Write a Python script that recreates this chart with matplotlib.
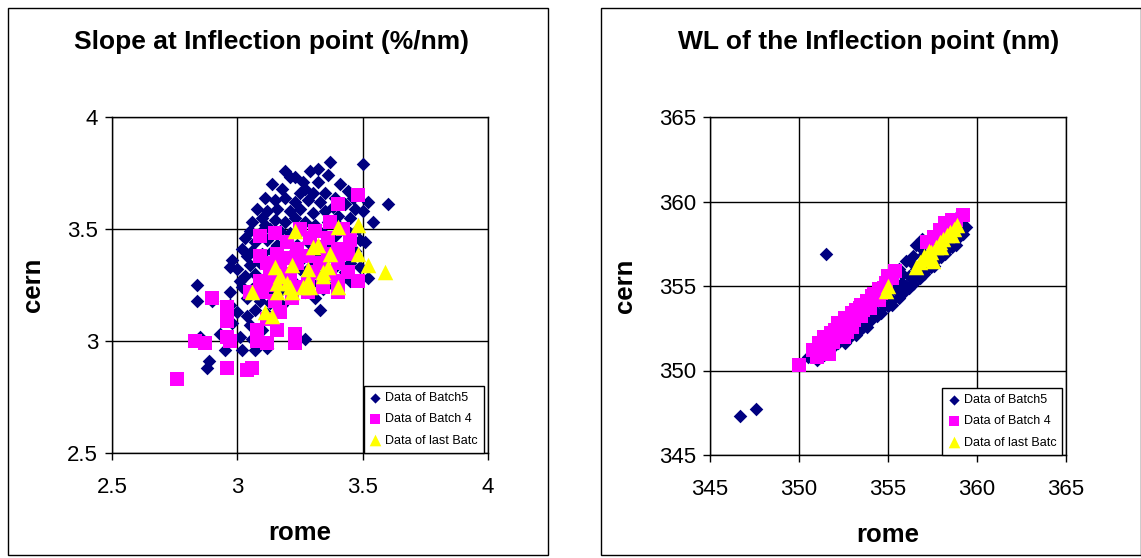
import matplotlib
matplotlib.use("Agg")
import matplotlib.pyplot as plt
from matplotlib.patches import Rectangle

plt.rcParams["font.family"] = ["Liberation Sans", "DejaVu Sans"]

# ---- left panel: slope at inflection point (%/nm) ----
slope_b5 = [
    (3.37, 3.80), (3.50, 3.79), (3.32, 3.77), (3.21, 3.73), (3.23, 3.73), (3.32, 3.71), (3.27, 3.68),
    (3.44, 3.67), (3.60, 3.61), (3.50, 3.58), (3.54, 3.53), (3.11, 3.64), (3.10, 3.55), (3.03, 3.46),
    (3.04, 3.38), (2.98, 3.36), (2.84, 3.25), (2.84, 3.18), (2.90, 3.18), (3.04, 3.11), (3.00, 3.13),
    (3.01, 3.02), (3.02, 2.96), (2.95, 2.96), (2.885, 2.91), (2.88, 2.88), (2.85, 3.02), (3.07, 2.96),
    (2.97, 3.33), (3.01, 3.27), (3.52, 3.28), (3.33, 3.14), (3.27, 3.01), (3.43, 3.31), (3.34, 3.23),
    (3.14, 3.70), (3.18, 3.68), (3.26, 3.71), (3.30, 3.66), (3.35, 3.66), (3.39, 3.64), (3.15, 3.63),
    (3.19, 3.64), (3.23, 3.62), (3.28, 3.63), (3.33, 3.62), (3.38, 3.60), (3.43, 3.61), (3.47, 3.59),
    (3.08, 3.59), (3.12, 3.58), (3.16, 3.59), (3.21, 3.58), (3.25, 3.59), (3.30, 3.57), (3.35, 3.58),
    (3.40, 3.56), (3.45, 3.55), (3.06, 3.53), (3.11, 3.52), (3.15, 3.54), (3.19, 3.53), (3.23, 3.55),
    (3.27, 3.53), (3.31, 3.52), (3.36, 3.53), (3.41, 3.51), (3.05, 3.49), (3.09, 3.48), (3.13, 3.50),
    (3.17, 3.49), (3.21, 3.48), (3.25, 3.49), (3.29, 3.47), (3.34, 3.48), (3.39, 3.47), (3.45, 3.48),
    (3.49, 3.45), (3.07, 3.44), (3.12, 3.45), (3.16, 3.43), (3.20, 3.45), (3.24, 3.43), (3.28, 3.44),
    (3.32, 3.42), (3.37, 3.43), (3.42, 3.41), (3.47, 3.40), (3.02, 3.41), (3.06, 3.40), (3.10, 3.39),
    (3.14, 3.40), (3.18, 3.38), (3.22, 3.39), (3.26, 3.37), (3.31, 3.38), (3.35, 3.36), (3.40, 3.37),
    (3.45, 3.35), (3.00, 3.32), (3.05, 3.34), (3.09, 3.35), (3.13, 3.33), (3.17, 3.34), (3.21, 3.31),
    (3.25, 3.32), (3.29, 3.33), (3.34, 3.30), (3.38, 3.32), (3.03, 3.29), (3.07, 3.30), (3.11, 3.28),
    (3.15, 3.29), (3.19, 3.27), (3.23, 3.26), (3.28, 3.28), (3.32, 3.26), (3.38, 3.25), (3.45, 3.27),
    (3.02, 3.24), (3.06, 3.23), (3.10, 3.25), (3.14, 3.22), (3.18, 3.23), (3.22, 3.21), (3.27, 3.22),
    (3.31, 3.19), (2.97, 3.22), (3.04, 3.19), (3.09, 3.18), (3.13, 3.17), (3.18, 3.16), (3.07, 3.14),
    (3.12, 3.12), (2.98, 3.08), (3.05, 3.07), (3.10, 3.05), (2.93, 3.03), (3.06, 3.01), (3.12, 2.97),
    (2.97, 3.16), (3.29, 3.76), (3.36, 3.74), (3.41, 3.70), (3.46, 3.64), (3.52, 3.62), (3.19, 3.76),
    (3.48, 3.50), (3.51, 3.44), (3.49, 3.33), (3.42, 3.28), (3.25, 3.66),
]
slope_b4 = [
    (3.48, 3.65), (3.40, 3.61), (3.09, 3.47), (3.15, 3.48), (3.25, 3.50), (3.37, 3.53), (3.42, 3.50),
    (3.45, 3.45), (3.09, 3.38), (3.16, 3.39), (3.24, 3.41), (3.33, 3.42), (3.40, 3.41), (3.44, 3.39),
    (3.17, 3.33), (3.24, 3.35), (3.33, 3.35), (3.40, 3.35), (3.09, 3.27), (3.17, 3.27), (3.28, 3.26),
    (3.40, 3.27), (3.48, 3.27), (3.05, 3.22), (3.10, 3.22), (3.22, 3.19), (3.28, 3.22), (3.40, 3.22),
    (2.90, 3.19), (2.96, 3.15), (2.96, 3.09), (3.17, 3.13), (3.08, 3.05), (3.16, 3.05), (2.96, 3.02),
    (2.83, 3.00), (2.87, 2.99), (2.97, 3.00), (3.08, 3.00), (3.12, 2.99), (3.23, 2.99), (3.23, 3.03),
    (2.96, 2.88), (3.04, 2.87), (3.06, 2.88), (2.76, 2.83), (3.20, 3.44), (3.29, 3.46), (3.36, 3.46),
    (3.21, 3.37), (3.28, 3.38), (3.36, 3.39), (3.13, 3.30), (3.21, 3.30), (3.30, 3.31), (3.37, 3.30),
    (3.13, 3.25), (3.24, 3.24), (3.34, 3.24), (3.44, 3.31), (3.12, 3.35), (3.31, 3.49), (3.15, 3.18),
    (3.12, 3.10),
]
slope_last = [
    (3.23, 3.49), (3.40, 3.51), (3.48, 3.52), (3.30, 3.42), (3.32, 3.43), (3.37, 3.39), (3.48, 3.39),
    (3.15, 3.33), (3.22, 3.34), (3.28, 3.32), (3.36, 3.33), (3.52, 3.34), (3.59, 3.31), (3.16, 3.26),
    (3.20, 3.26), (3.28, 3.27), (3.34, 3.29), (3.40, 3.24), (3.06, 3.22), (3.16, 3.22), (3.22, 3.22),
    (3.26, 3.24), (3.11, 3.13), (3.14, 3.11), (3.17, 3.29), (3.21, 3.24), (3.29, 3.24), (3.34, 3.31),
]

# ---- right panel: WL of the inflection point (nm) ----
wl_b5 = [
    (346.7, 347.3), (347.6, 347.7), (351.5, 356.9),
    (350.5, 350.8), (350.8, 350.9), (351.0, 351.2), (351.2, 351.0), (351.4, 351.5), (351.6, 351.3),
    (351.8, 351.8), (352.0, 351.6), (352.2, 352.1), (352.4, 351.9), (352.6, 352.4), (352.8, 352.2),
    (353.0, 352.7), (353.2, 352.5), (353.4, 353.0), (353.6, 352.6), (353.8, 353.2), (354.0, 353.0),
    (354.2, 353.6), (354.4, 353.4), (354.6, 354.0), (354.8, 353.8), (355.0, 354.4), (355.2, 354.2),
    (355.4, 354.8), (355.6, 354.6), (355.8, 355.2), (356.0, 355.0), (356.2, 355.6), (356.4, 355.5),
    (356.6, 356.0), (356.8, 355.7), (357.0, 356.3), (357.2, 356.0), (357.4, 356.6), (357.6, 356.4),
    (357.8, 357.0), (358.0, 356.8), (358.2, 357.4), (358.4, 357.3), (358.6, 357.8), (358.8, 357.7),
    (359.0, 358.2), (359.2, 358.1), (359.4, 358.5),
    (355.2, 355.6), (355.6, 356.0), (356.0, 356.5), (356.4, 356.8), (356.8, 357.3), (357.2, 357.6),
    (357.6, 358.0), (358.0, 358.4), (358.4, 358.7), (358.8, 359.0), (354.6, 355.0), (354.2, 354.6),
    (353.8, 354.2), (353.4, 353.8), (352.0, 352.6), (351.2, 351.8), (356.6, 357.4), (356.9, 357.8),
    (352.6, 351.6), (353.2, 352.1), (353.8, 352.6), (354.4, 353.2), (355.0, 353.8), (355.6, 354.3),
    (356.2, 354.9), (356.8, 355.5), (357.4, 356.1), (358.0, 356.7), (358.6, 357.3), (351.0, 350.6),
    (351.4, 350.9), (351.8, 351.3), (352.2, 351.6), (352.8, 351.9), (353.4, 352.4), (354.0, 352.9),
    (354.6, 353.4), (355.2, 353.9), (355.8, 354.5), (356.4, 355.1), (357.0, 355.7), (357.6, 356.2),
    (358.2, 356.9), (358.8, 357.4), (359.2, 358.6), (359.0, 358.7), (358.5, 358.2), (357.8, 357.5),
    (357.0, 356.9), (356.4, 356.3), (355.8, 355.7), (355.2, 355.0), (354.8, 354.4), (354.0, 353.6),
    (353.3, 353.0), (352.6, 352.3), (351.9, 351.6),
]
wl_b4 = [
    (350.0, 350.3), (351.0, 350.8), (351.3, 351.1), (351.6, 351.4), (351.5, 351.8), (351.9, 351.7),
    (352.1, 352.0), (352.0, 352.4), (352.4, 352.3), (352.3, 352.7), (352.6, 352.6), (352.9, 352.8),
    (352.8, 353.1), (353.1, 353.0), (353.3, 353.3), (353.2, 353.6), (353.6, 353.6), (353.5, 353.9),
    (353.8, 353.8), (354.0, 354.1), (354.4, 354.2), (354.2, 354.5), (354.6, 354.6), (354.8, 354.9),
    (355.0, 355.6), (355.4, 355.9), (357.2, 357.6), (357.6, 357.9), (358.2, 358.7), (358.6, 358.9),
    (358.8, 358.9), (359.2, 359.2), (357.9, 358.3), (351.2, 351.2), (351.7, 351.0), (352.7, 352.3),
    (350.8, 351.2), (351.1, 351.6), (351.4, 352.0), (351.8, 352.2), (352.2, 352.8), (352.6, 353.1),
    (353.0, 353.4), (353.4, 353.7), (353.8, 354.1), (354.1, 354.4), (354.5, 354.8), (354.9, 355.2),
    (355.2, 355.5), (352.5, 352.0), (353.0, 352.6), (353.5, 353.2), (354.0, 353.7), (354.5, 354.2),
]
wl_last = [
    (355.0, 355.0), (354.9, 354.7), (356.6, 356.1), (356.8, 356.4), (357.0, 356.8), (357.2, 356.6),
    (357.4, 357.0), (357.5, 356.5), (357.7, 357.3), (357.9, 357.6), (358.1, 357.8), (358.3, 358.0),
    (358.5, 358.2), (358.7, 358.4), (358.9, 358.6), (358.6, 358.0), (358.0, 357.3), (357.3, 357.1),
]

labels = ["Data of Batch5", "Data of Batch 4", "Data of last Batc"]
left_ticks = [2.5, 3, 3.5, 4]
left_ticklabels = ["2.5", "3", "3.5", "4"]
right_ticks = [345, 350, 355, 360, 365]

NAVY = "#000080"
MAGENTA = "#FF00FF"
YELLOW = "#FFFF00"

fig = plt.figure(figsize=(11.41, 5.58), dpi=100)

# chart-area frames
for x0 in (8, 601):
    fig.patches.append(Rectangle((x0 / 1141, 3 / 558), 540 / 1141, 547 / 558,
                                 transform=fig.transFigure, fill=False,
                                 edgecolor="black", linewidth=1.0))


def draw_panel(rect, b5, b4, last, ticks, ticklabels, title, title_x):
    ax = fig.add_axes(rect)
    ax.set_axisbelow(True)
    ax.scatter([p[0] for p in b5], [p[1] for p in b5], marker="D", s=48,
               color=NAVY, linewidths=0, label=labels[0], zorder=3)
    ax.scatter([p[0] for p in b4], [p[1] for p in b4], marker="s", s=100,
               color=MAGENTA, linewidths=0, label=labels[1], zorder=4)
    ax.scatter([p[0] for p in last], [p[1] for p in last], marker="^", s=125,
               color=YELLOW, linewidths=0, label=labels[2], zorder=5)
    ax.set_xlim(ticks[0], ticks[-1])
    ax.set_ylim(ticks[0], ticks[-1])
    ax.set_xticks(ticks)
    ax.set_yticks(ticks)
    ax.set_xticklabels(ticklabels)
    ax.set_yticklabels(ticklabels)
    ax.tick_params(direction="out", length=5, width=1, labelsize=16)
    ax.tick_params(axis="x", pad=12)
    ax.tick_params(axis="y", pad=5)
    ax.grid(True, color="black", linewidth=1.0)
    for sp in ax.spines.values():
        sp.set_linewidth(1.0)
    ax.set_xlabel("rome", fontsize=18.5, fontweight="bold", labelpad=17)
    ax.set_ylabel("cern", fontsize=18.5, fontweight="bold", labelpad=16)
    leg = ax.legend(loc="lower right", bbox_to_anchor=(0.99, 0.0), fontsize=9,
                    frameon=True, fancybox=False, borderpad=0.5,
                    handlelength=0.8, handletextpad=0.4, labelspacing=0.75,
                    markerscale=0.75, borderaxespad=0.0)
    leg.get_frame().set_edgecolor("black")
    leg.get_frame().set_linewidth(1.0)
    leg.get_frame().set_alpha(1.0)
    fig.text(title_x, 0.924, title, ha="center", va="center",
             fontsize=19, fontweight="bold")
    return ax


draw_panel([112 / 1141, 105 / 558, 376 / 1141, 336 / 558],
           slope_b5, slope_b4, slope_last, left_ticks, left_ticklabels,
           "Slope at Inflection point (%/nm)", 272 / 1141)
draw_panel([710 / 1141, 103 / 558, 356 / 1141, 338 / 558],
           wl_b5, wl_b4, wl_last, right_ticks, [str(t) for t in right_ticks],
           "WL of the Inflection point (nm)", 869 / 1141)

fig.savefig("out.png", dpi=100)
